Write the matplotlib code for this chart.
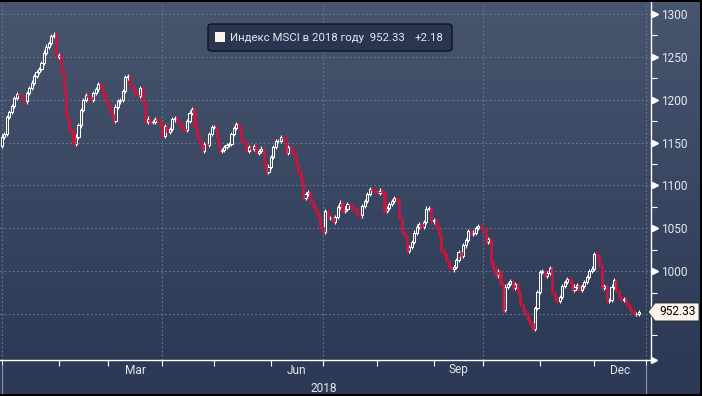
import numpy as np
import pandas as pd
import matplotlib
matplotlib.use("Agg")
import matplotlib.pyplot as plt
from matplotlib.patches import FancyBboxPatch, Polygon, Rectangle
from matplotlib.colors import to_rgb
from matplotlib.transforms import blended_transform_factory, IdentityTransform

# ---------------- data ----------------
closes = [
    # Jan - early Feb
    1157, 1160, 1180, 1186, 1193, 1202, 1207, 1205, 1200, 1198, 1208, 1214, 1220, 1228,
    1232, 1236, 1243, 1255, 1262, 1266, 1274, 1276, 1250, 1252, 1232, 1210, 1180, 1165,
    1163, 1148, 1157, 1170, 1188, 1200, 1205, 1203, 1200, 1208, 1212, 1218, 1215,
    # Mar - Apr
    1205, 1197, 1190, 1183, 1175, 1192, 1198, 1200, 1210, 1226, 1228, 1216, 1214, 1206,
    1204, 1214, 1197, 1174, 1178, 1174, 1174, 1177, 1176, 1172, 1158, 1169, 1162, 1166,
    1177, 1179, 1174, 1170, 1166, 1165, 1175, 1185, 1189, 1169, 1158, 1150, 1140, 1148,
    # May - Jun
    1147, 1160, 1168, 1168, 1154, 1140, 1141, 1145, 1147, 1148, 1160, 1167, 1172, 1167,
    1152, 1150, 1140, 1145, 1143, 1146, 1138, 1140, 1143, 1125, 1116, 1122, 1133, 1145,
    1152, 1152, 1156, 1155, 1138, 1145, 1143, 1136, 1125, 1115, 1105, 1085, 1090, 1092,
    1082, 1076, 1070, 1064, 1052,
    # Jul - Aug
    1046, 1070, 1062, 1062, 1057, 1063, 1075, 1080, 1070, 1073, 1078, 1077, 1073, 1072,
    1066, 1065, 1076, 1082, 1090, 1096, 1095, 1093, 1091, 1094, 1092, 1070, 1074, 1078,
    1082, 1085, 1083, 1062, 1046, 1042, 1024, 1028, 1034, 1045, 1052, 1055, 1052, 1057,
    1073, 1074, 1058, 1060,
    # Sep - Oct
    1052, 1042, 1024, 1020, 1012, 1005, 1002, 1005, 1013, 1022, 1018, 1030, 1036, 1047,
    1043, 1045, 1050, 1053, 1050, 1049, 1034, 1037, 1010, 1003, 995, 1000, 985, 955,
    982, 985, 988, 980, 985, 975, 962, 955,
    # late Oct - Dec
    950, 943, 940, 933, 957, 976, 999, 1000, 994, 998, 1004, 975, 968, 965, 970, 983,
    987, 991, 988, 978, 982, 984, 978, 983, 987, 993, 1000, 1003, 1020, 1018, 1007, 980,
    983, 965, 966, 982, 990, 977, 970, 966, 967, 962, 957, 954, 950, 950.15, 952.33,
]
first_open = 1146.0
start_date = "2018-01-01"
legend_name = "Индекс MSCI в 2018 году"
last_text = "952.33"
change_text = "+2.18"
y_major = [950, 1000, 1050, 1100, 1150, 1200, 1250, 1300]
y_labels = ["", "1000", "1050", "1100", "1150", "1200", "1250", "1300"]
y_minor = [925, 975, 1025, 1075, 1125, 1175, 1225, 1275]
quarter_months = [3, 6, 9, 12]
quarter_labels = ["Mar", "Jun", "Sep", "Dec"]
year_label = "2018"

# ---------------- style ----------------
plt.rcParams["font.family"] = ["Roboto", "DejaVu Sans"]
FS_TICK = 8.6
FS_LEG = 8.2
TXT = "#e4e8ee"
RED = "#c8173f"
GRID = "#6b7892"

W, H = 702, 396
fig = plt.figure(figsize=(W / 100, H / 100), dpi=100)

# background gradient
bg = fig.add_axes([0, 0, 1, 1])
bg.axis("off")
top_c = np.array(to_rgb("#48556f"))
bot_c = np.array(to_rgb("#2c3a56"))
t = np.clip(np.arange(H) / 360.0, 0, 1)
grad = top_c[None, :] * (1 - t[:, None]) + bot_c[None, :] * t[:, None]
bg.imshow(grad[:, None, :], aspect="auto", extent=[0, 1, 0, 1], origin="upper")

ax = fig.add_axes([0 / W, 36 / H, 651 / W, 358 / H])
ax.patch.set_alpha(0)

# trading-day axis
full = pd.bdate_range("2018-01-01", "2019-01-01")
dates = pd.bdate_range(start_date, periods=len(closes))
xs = full.get_indexer(dates)
month_starts = [full.searchsorted(pd.Timestamp(2018, m, 1)) for m in range(1, 13)]
month_starts.append(full.searchsorted(pd.Timestamp(2019, 1, 1)))

c = np.array(closes, dtype=float)
o = np.concatenate([[first_open], c[:-1]])
hi = np.maximum(o, c) + 2.5
lo = np.minimum(o, c) - 2.5
up = c >= o

width = 0.85
ax.vlines(xs[up], lo[up], hi[up], color="white", lw=0.8, zorder=3)
ax.vlines(xs[~up], lo[~up], hi[~up], color=RED, lw=0.8, zorder=3)
ax.bar(xs[up], (c - o)[up], bottom=o[up], width=width, facecolor="#3a4762",
       edgecolor="white", lw=0.75, zorder=4)
ax.bar(xs[~up], (o - c)[~up], bottom=c[~up], width=width, facecolor=RED,
       edgecolor=RED, lw=0.5, zorder=4)

ax.set_xlim(-0.8, 263.0)
ax.set_ylim(896.3, 1314.0)

# grid
for yv in y_major:
    ax.axhline(yv, color=GRID, lw=0.8, ls=(0, (1.5, 2.2)), zorder=1)
for k in [0, 3, 6, 9, 12]:
    ax.axvline(month_starts[k], color=GRID, lw=0.8, ls=(0, (1.5, 2.2)), zorder=1)

# spines
for s in ["top", "left"]:
    ax.spines[s].set_visible(False)
for s in ["bottom", "right"]:
    ax.spines[s].set_color("white")
    ax.spines[s].set_linewidth(1.0)

# y axis on the right
ax.yaxis.tick_right()
ax.set_yticks(y_major)
ax.set_yticklabels(y_labels)
ax.set_yticks(y_minor, minor=True)
ax.tick_params(axis="y", which="major", length=0, pad=7, labelcolor=TXT, labelsize=FS_TICK)
ax.tick_params(axis="y", which="minor", length=4, width=0.8, color="white", direction="out")
ytr = blended_transform_factory(ax.transAxes, ax.transData)
ax.plot([1.0 + 4 / 651] * len(y_major[1:]), y_major[1:], ls="none", marker=">",
        ms=4.5, color="white", mec="white", transform=ytr, clip_on=False, zorder=6)

# x axis
ax.set_xticks(month_starts)
ax.set_xticklabels([])
ax.tick_params(axis="x", which="major", length=4, width=0.8, color="white", direction="out")
xtr = blended_transform_factory(ax.transData, ax.transAxes)
for m, lab in zip(quarter_months, quarter_labels):
    xm = (month_starts[m - 1] + month_starts[m]) / 2
    ax.text(xm, -10 / 358, lab, transform=xtr, ha="center", va="center",
            fontsize=FS_TICK, color=TXT)
ax.text((month_starts[0] + month_starts[12]) / 2, -28 / 358, year_label, transform=xtr,
        ha="center", va="center", fontsize=FS_TICK, color=TXT)
for k in [0, 12]:
    ax.plot([month_starts[k], month_starts[k]], [-5 / 358, -37 / 358], color="#8a96ab",
            lw=0.8, transform=xtr, clip_on=False)
# x-axis arrow
ax.plot([1.0 + 3 / 651], [0], marker=">", ms=5, color="white", transform=ax.transAxes,
        clip_on=False, zorder=6)

# last value tag
fig.canvas.draw()
_, yp = ax.transData.transform((0, c[-1]))
xa = 648
poly = Polygon([(xa, yp), (xa + 7, yp + 9), (699, yp + 9), (699, yp - 9), (xa + 7, yp - 9)],
               closed=True, facecolor="#fcf4ea", edgecolor="#222222", lw=0.6,
               transform=IdentityTransform(), zorder=10)
fig.patches.append(poly)
fig.text(677.5 / W, yp / H, last_text, ha="center", va="center", fontsize=FS_TICK,
         color="black", zorder=11)

# legend box
def fx(px):
    return px / W

def fy(py):
    return (H - py) / H

leg = FancyBboxPatch((fx(208), fy(51)), fx(452) - fx(208), fy(24) - fy(51),
                     boxstyle="round,pad=0,rounding_size=0.006", transform=fig.transFigure,
                     facecolor="#2a3550", edgecolor="#0e1420", lw=1.0, zorder=10)
fig.patches.append(leg)
fig.patches.append(Rectangle((fx(215), fy(42)), fx(225) - fx(215), fy(32) - fy(42),
                             transform=fig.transFigure, facecolor="#fdf1ec",
                             edgecolor="none", zorder=11))
t1 = fig.text(fx(230), fy(38), legend_name + "  " + last_text, ha="left", va="center",
              fontsize=FS_LEG, color=TXT, zorder=12)
fig.canvas.draw()
x_end = t1.get_window_extent().x1
fig.text((x_end + 10) / W, fy(38), change_text, ha="left", va="center", fontsize=FS_LEG,
         color=TXT, zorder=12)

# frame edges
fig.patches.append(Rectangle((0, fy(2)), 1, 2 / H, transform=fig.transFigure,
                             facecolor="black", edgecolor="none", zorder=20))
fig.patches.append(Rectangle((fx(700), 0), 2 / W, 1, transform=fig.transFigure,
                             facecolor="black", edgecolor="none", zorder=20))
fig.patches.append(Rectangle((0, 0), 1, 2 / H, transform=fig.transFigure,
                             facecolor="black", edgecolor="none", zorder=20))

fig.savefig("out.png", dpi=100)
